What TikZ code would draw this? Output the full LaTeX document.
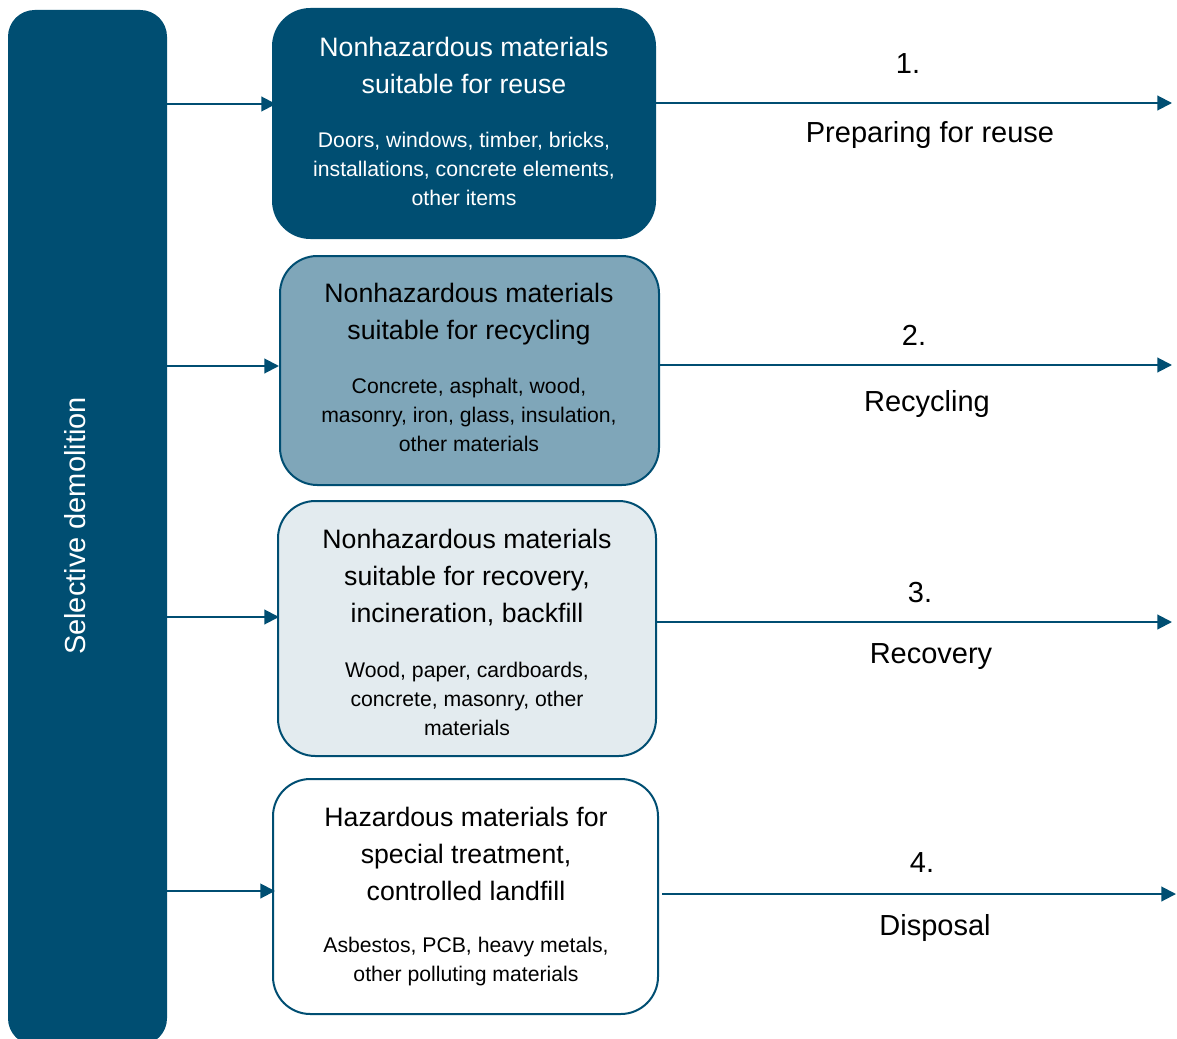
\documentclass[tikz,border=0pt]{standalone}
\usepackage{fontspec}
\setmainfont{Liberation Sans}
\usetikzlibrary{arrows.meta}
\definecolor{dblue}{RGB}{0,78,114}
\definecolor{mblue}{RGB}{127,166,185}
\definecolor{lblue}{RGB}{227,235,239}
\tikzset{
  box/.style={draw=dblue, line width=1.5pt, rounded corners=28pt, inner sep=0pt},
  ttl/.style={align=center, font=\fontsize{20}{27.75}\selectfont, inner sep=0pt},
  sml/.style={align=center, font=\fontsize{15.9}{21.75}\selectfont, inner sep=0pt},
  lbl/.style={font=\fontsize{21.75}{26}\selectfont, inner sep=0pt},
  arr/.style={draw=dblue, line width=1.5pt, -{Triangle[length=11pt,width=11pt]}},
}
\begin{document}
\begin{tikzpicture}[x=0.75pt,y=-0.75pt]
\useasboundingbox (0,0) rectangle (1177,1038);
% left bar
\node[fill=dblue, rounded corners=20pt, minimum width=119.25pt, minimum height=776.25pt, inner sep=0pt] (bar) at (87.5,527.5) {};
\node[rotate=90, text=white, lbl] (bart) at (75,526) {Selective demolition};
% boxes
\node[box, fill=dblue, minimum width=286.5pt, minimum height=171.75pt] (b1) at (464,123.5) {};
\node[box, fill=mblue, minimum width=284.25pt, minimum height=171.75pt] (b2) at (469.5,370.5) {};
\node[box, fill=lblue, minimum width=283.5pt, minimum height=191.25pt] (b3) at (467,628.5) {};
\node[box, fill=white, minimum width=288.75pt, minimum height=176.25pt] (b4) at (465.5,896.5) {};
% box texts
\node[ttl, text=white] (t1) at (464,65) {Nonhazardous materials\\suitable for reuse};
\node[sml, text=white] (s1) at (464,168.5) {Doors, windows, timber, bricks,\\installations, concrete elements,\\other items};
\node[ttl] (t2) at (469,314) {Nonhazardous materials\\suitable for recycling};
\node[sml] (s2) at (469,415) {Concrete, asphalt, wood,\\masonry, iron, glass, insulation,\\other materials};
\node[ttl] (t3) at (467,578) {Nonhazardous materials\\suitable for recovery,\\incineration, backfill};
\node[sml] (s3) at (467,698.5) {Wood, paper, cardboards,\\concrete, masonry, other\\materials};
\node[ttl] (t4) at (466,854) {Hazardous materials for\\special treatment,\\controlled landfill};
\node[sml] (s4) at (466,962) {Asbestos, PCB, heavy metals,\\other polluting materials};
% right ends
\coordinate (e1) at (1172,103);
\coordinate (e2) at (1172,365);
\coordinate (e3) at (1172,622);
\coordinate (e4) at (1176,894);
% left arrows
\draw[arr] (bar.east |- 0,104) -- ([xshift=3pt]b1.west |- 0,104);
\draw[arr] (bar.east |- 0,366) -- (b2.west |- 0,366);
\draw[arr] (bar.east |- 0,617) -- ([xshift=1.5pt]b3.west |- 0,617);
\draw[arr] (bar.east |- 0,891) -- ([xshift=2.25pt]b4.west |- 0,891);
% right arrows
\draw[arr] (b1.east |- e1) -- (e1);
\draw[arr] (b2.east |- e2) -- (e2);
\draw[arr] (b3.east |- e3) -- (e3);
\draw[arr] ([xshift=2.25pt]b4.east |- e4) -- (e4);
% labels
\node[lbl] (n1) at (908,64) {1.};
\node[lbl] (l1) at (930,135) {Preparing for reuse};
\node[lbl] (n2) at (914,335) {2.};
\node[lbl] (l2) at (927,404) {Recycling};
\node[lbl] (n3) at (920,593) {3.};
\node[lbl] (l3) at (931,657) {Recovery};
\node[lbl] (n4) at (922,863) {4.};
\node[lbl] (l4) at (935,928) {Disposal};
\end{tikzpicture}
\end{document}
